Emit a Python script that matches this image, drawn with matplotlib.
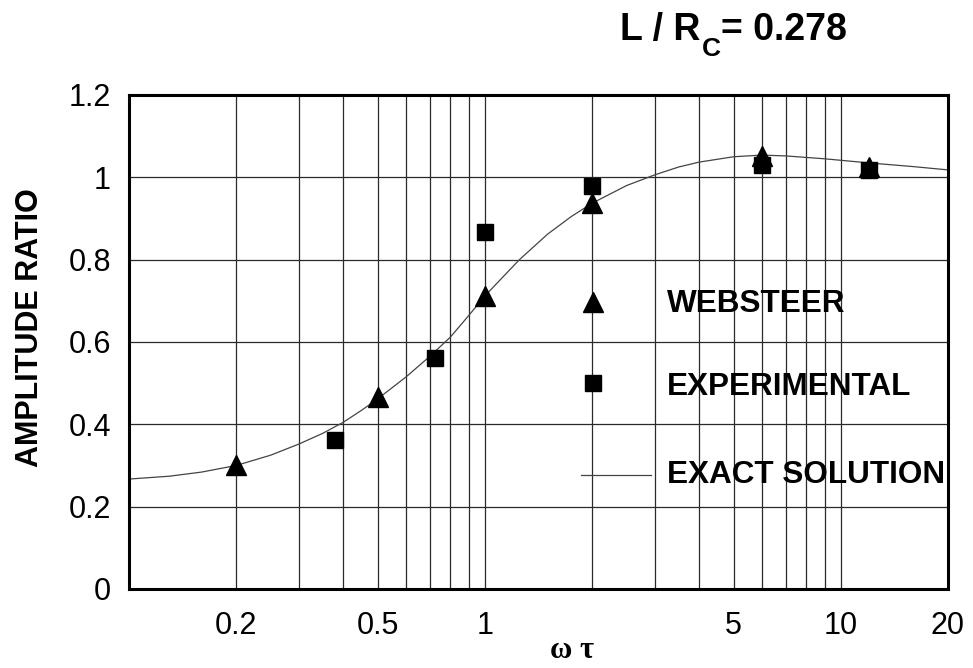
import matplotlib
matplotlib.use("Agg")
import matplotlib.pyplot as plt
from matplotlib.ticker import FixedLocator, NullFormatter

plt.rcParams['font.family'] = ['Liberation Sans', 'DejaVu Sans']

# WEBSTEER results (triangles)
web_x = [0.2, 0.5, 1.0, 2.0, 6.0, 12.0]
web_y = [0.30, 0.466, 0.712, 0.937, 1.052, 1.024]

# experimental data (squares)
exp_x = [0.38, 0.725, 1.0, 2.0, 6.0, 12.0]
exp_y = [0.361, 0.561, 0.866, 0.98, 1.03, 1.017]

# exact solution
exact_x = [0.1, 0.13, 0.16, 0.2, 0.25, 0.3, 0.35, 0.4, 0.45, 0.5, 0.6, 0.7, 0.8, 0.9,
           1.0, 1.25, 1.5, 1.75, 2.0, 2.5, 3.0, 3.5, 4.0, 5.0, 6.0, 7.0, 9.0, 12.0, 16.0, 20.0]
exact_y = [0.267, 0.274, 0.284, 0.300, 0.325, 0.352, 0.378, 0.405, 0.434, 0.462, 0.515, 0.565,
           0.612, 0.664, 0.712, 0.800, 0.862, 0.905, 0.937, 0.980, 1.006, 1.025, 1.037, 1.050,
           1.054, 1.052, 1.045, 1.035, 1.026, 1.018]

x_ticks = [0.2, 0.5, 1, 5, 10, 20]
x_ticklabels = ["0.2", "0.5", "1", "5", "10", "20"]
y_ticks = [0, 0.2, 0.4, 0.6, 0.8, 1.0, 1.2]
y_ticklabels = ["0", "0.2", "0.4", "0.6", "0.8", "1", "1.2"]
grid_x = [0.2, 0.3, 0.4, 0.5, 0.6, 0.7, 0.8, 0.9, 1, 2, 3, 4, 5, 6, 7, 8, 9, 10]

fig = plt.figure(figsize=(9.73, 6.68), dpi=100)
ax = fig.add_axes([0.1326, 0.1183, 0.8417, 0.7395])

ax.set_xscale('log')
ax.set_xlim(0.1, 20)
ax.set_ylim(0, 1.2)

for gx in grid_x:
    ax.axvline(gx, color='#2a2a2a', lw=0.9, zorder=1)
for gy in y_ticks[1:-1]:
    ax.axhline(gy, color='#2a2a2a', lw=0.9, zorder=1)

ax.plot(exact_x, exact_y, color='#444444', lw=0.9, zorder=2)
ax.plot(web_x, web_y, linestyle='none', marker='^', markersize=14, color='black', zorder=3)
ax.plot(exp_x, exp_y, linestyle='none', marker='s', markersize=11, color='black', zorder=3)

ax.xaxis.set_major_locator(FixedLocator(x_ticks))
ax.xaxis.set_minor_locator(FixedLocator([]))
ax.xaxis.set_minor_formatter(NullFormatter())
ax.set_xticklabels(x_ticklabels)
ax.set_yticks(y_ticks)
ax.set_yticklabels(y_ticklabels)
ax.tick_params(axis='both', which='both', length=0, labelsize=22)
ax.tick_params(axis='x', pad=16)
ax.tick_params(axis='y', pad=13)

for sp in ax.spines.values():
    sp.set_linewidth(2.2)

ax.set_ylabel("AMPLITUDE RATIO", fontsize=22, fontweight='bold')
ax.yaxis.set_label_coords(-0.102, 0.53)

fig.text(572 / 973, 1 - 651 / 668, "ω τ", family=['Liberation Serif', 'DejaVu Serif'],
         fontsize=22, fontweight='bold', ha='center', va='center')

# title L / R_C = 0.278, pieces chained so the subscript sits low like the original
t1 = fig.text(620 / 973, 1 - 40 / 668, "L / R", fontsize=27, fontweight='bold',
              ha='left', va='baseline')
t2 = ax.annotate("C", xy=(1, 0), xycoords=t1, xytext=(1, -9),
                 textcoords='offset points', fontsize=19, fontweight='bold',
                 ha='left', va='bottom', annotation_clip=False)
ax.annotate("= 0.278", xy=(1, 0), xycoords=(t2, t1), xytext=(0, 0),
            textcoords='offset points', fontsize=27, fontweight='bold',
            ha='left', va='bottom', annotation_clip=False)

# legend drawn inside the axes
ax.plot([0.5665], [0.581], transform=ax.transAxes, marker='^', markersize=14,
        color='black', linestyle='none', zorder=3)
ax.plot([0.5665], [0.417], transform=ax.transAxes, marker='s', markersize=11,
        color='black', linestyle='none', zorder=3)
ax.plot([0.552, 0.637], [0.231, 0.231], transform=ax.transAxes, color='#444444',
        lw=0.9, zorder=2)
leg_labels = ["WEBSTEER", "EXPERIMENTAL", "EXACT SOLUTION"]
leg_y = [0.577, 0.408, 0.231]
for lab, ly in zip(leg_labels, leg_y):
    ax.text(0.657, ly, lab, transform=ax.transAxes, fontsize=22.7, fontweight='bold',
            ha='left', va='center', zorder=4)

fig.savefig("out.png", dpi=100)
